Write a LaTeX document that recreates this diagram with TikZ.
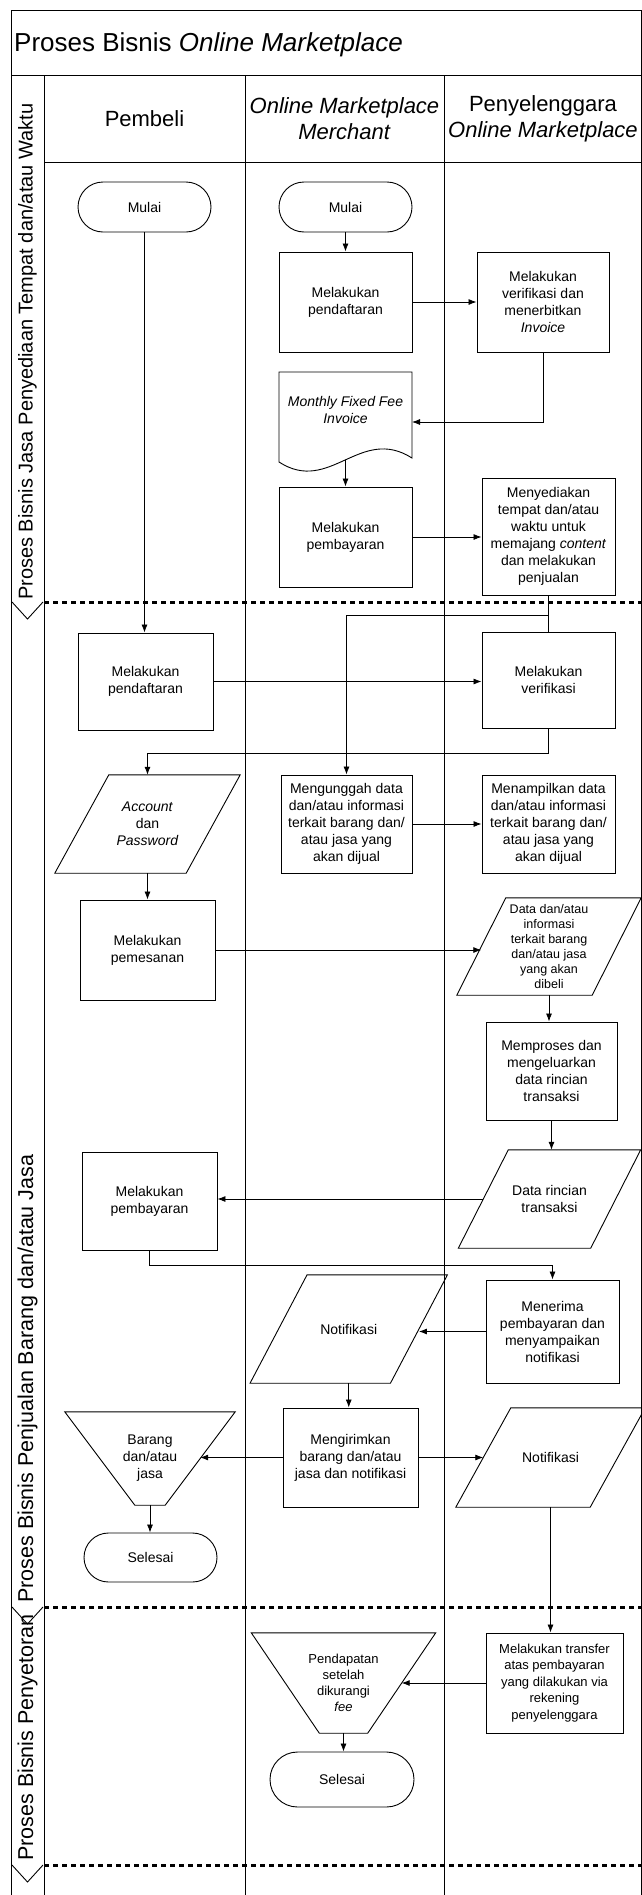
\documentclass[tikz,border=0pt]{standalone}
\usepackage{fontspec}
\setmainfont{Liberation Sans}
\usetikzlibrary{arrows.meta,shapes.misc,calc}
\newcommand{\drawpara}[2]{\draw[shp] ($(#1.south west)+(-#2,0)$) -- ($(#1.south east)+(-#2,0)$) -- ($(#1.north east)+(#2,0)$) -- ($(#1.north west)+(#2,0)$) -- cycle;}
\newcommand{\drawtrap}[2]{\draw[shp] ($(#1.north west)+(-#2,0)$) -- ($(#1.north east)+(#2,0)$) -- ($(#1.south east)+(-#2,0)$) -- ($(#1.south west)+(#2,0)$) -- cycle;}
\tikzset{
  shp/.style={draw=black, line width=0.9pt},
  txt/.style={align=center, inner sep=0pt, font=\fontsize{14}{17}\selectfont},
  smalltxt/.style={align=center, inner sep=0pt, font=\fontsize{12.5}{15}\selectfont},
  box/.style={txt, shp, rectangle},
  term/.style={txt, shp, rounded rectangle},
  arr/.style={line width=0.8pt, -{Latex[length=8pt,width=6pt]}},
  con/.style={line width=0.8pt},
  frameline/.style={line width=0.9pt},
  lanesep/.style={line width=3pt, dash pattern=on 5pt off 4pt},
  hdr/.style={align=center, inner sep=0pt, font=\fontsize{22}{26}\selectfont},
  lanelabel/.style={inner sep=0pt, rotate=90, anchor=west},
}
\begin{document}
\begin{tikzpicture}[x=1pt,y=-1pt]
\useasboundingbox (0,0) rectangle (642,1895);
% ---------- frame ----------
\draw[frameline] (11,10) -- (641,10);
\draw[frameline] (11,10) -- (11,1895);
\draw[frameline] (641,10) -- (641,1895);
\draw[frameline] (11,75) -- (641,75);
\draw[frameline] (44,75) -- (44,1895);
\draw[frameline] (44,162) -- (641,162);
\draw[frameline] (245,75) -- (245,1895);
\draw[frameline] (444,75) -- (444,1895);
\draw[lanesep] (44,602) -- (641,602);
\draw[lanesep] (44,1607) -- (641,1607);
\draw[lanesep] (44,1865) -- (641,1865);
\draw[frameline] (12,602) -- (27.5,619) -- (43,602);
\draw[frameline] (12,1607) -- (27.5,1624) -- (43,1607);
\draw[frameline] (12,1865) -- (27.5,1882) -- (43,1865);
% ---------- titles ----------
\node[anchor=west, inner sep=0pt, font=\fontsize{26}{30}\selectfont] (T) at (14,45) {Proses Bisnis \textit{Online Marketplace}};
\node[hdr] (H1) at (144.5,119) {Pembeli};
\node[hdr] (H2) at (344.5,119) {\textit{Online Marketplace}\\\textit{Merchant}};
\node[hdr] (H3) at (543,119) {Penyelenggara\\\textit{Online Marketplace}};
\node[lanelabel, font=\fontsize{20}{24}\selectfont] (L1) at (27.5,600) {Proses Bisnis Jasa Penyediaan Tempat dan/atau Waktu};
\node[lanelabel, font=\fontsize{21.5}{26}\selectfont] (L2) at (27.5,1603) {Proses Bisnis Penjualan Barang dan/atau Jasa};
\node[lanelabel, font=\fontsize{21.5}{26}\selectfont] (L3) at (27.5,1861) {Proses Bisnis Penyetoran};
% ---------- Pembeli ----------
\node[term, minimum width=133pt, minimum height=50pt] (P1) at (144.5,207) {Mulai};
\node[box, minimum width=135pt, minimum height=97pt] (P2) at (145.5,681.5) {Melakukan\\pendaftaran};
\node[txt, minimum width=131pt, minimum height=98pt] (P3) at (147.5,824) {\textit{Account}\\dan\\\textit{Password}};
\drawpara{P3}{27}
\node[box, minimum width=135pt, minimum height=100pt] (P4) at (147.5,950) {Melakukan\\pemesanan};
\node[box, minimum width=135pt, minimum height=98pt] (P5) at (149.5,1201) {Melakukan\\pembayaran};
\node[txt, minimum width=100pt, minimum height=93pt] (P6) at (150,1458.5) {Barang\\dan/atau\\jasa};
\drawtrap{P6}{35}
\node[term, minimum width=133pt, minimum height=49pt] (P7) at (150.5,1557.5) {Selesai};
% ---------- Merchant ----------
\node[term, minimum width=133pt, minimum height=50pt] (M1) at (345.5,207) {Mulai};
\node[box, minimum width=133pt, minimum height=100pt] (M2) at (345.5,302) {Melakukan\\pendaftaran};
\node[txt] (M3) at (345.5,410) {\textit{Monthly Fixed Fee}\\\textit{Invoice}};
\draw[shp] (279,372) -- (412,372) -- (412,458) .. controls (360,425) and (330,495) .. (279,462) -- cycle;
\coordinate (M3e) at (412,422);
\coordinate (M3s) at (345.5,460);
\node[box, minimum width=133pt, minimum height=100pt] (M4) at (345.5,537) {Melakukan\\pembayaran};
\node[box, minimum width=131pt, minimum height=98pt] (M5) at (346.5,824) {Mengunggah data\\dan/atau informasi\\terkait barang dan/\\atau jasa yang\\akan dijual};
\node[txt, minimum width=140pt, minimum height=108pt] (M6) at (348.75,1329) {Notifikasi};
\drawpara{M6}{28.5}
\node[box, minimum width=135pt, minimum height=99pt] (M7) at (350.5,1457.5) {Mengirimkan\\barang dan/atau\\jasa dan notifikasi};
\node[align=center, inner sep=0pt, font=\fontsize{13}{16}\selectfont, minimum width=116pt, minimum height=100pt] (M8) at (343.5,1683) {Pendapatan\\setelah\\dikurangi\\\textit{fee}};
\drawtrap{M8}{34}
\node[term, minimum width=144pt, minimum height=55pt] (M9) at (342,1779.5) {Selesai};
% ---------- Penyelenggara ----------
\node[box, minimum width=132pt, minimum height=100pt] (Y1) at (543,302) {Melakukan\\verifikasi dan\\menerbitkan\\\textit{Invoice}};
\node[box, minimum width=133pt, minimum height=117pt] (Y2) at (548.5,536.5) {Menyediakan\\tempat dan/atau\\waktu untuk\\memajang \textit{content}\\dan melakukan\\penjualan};
\node[box, minimum width=133pt, minimum height=96pt] (Y3) at (548.5,680) {Melakukan\\verifikasi};
\node[box, minimum width=133pt, minimum height=98pt] (Y4) at (548.5,824) {Menampilkan data\\dan/atau informasi\\terkait barang dan/\\atau jasa yang\\akan dijual};
\node[smalltxt, minimum width=135pt, minimum height=97pt] (Y5) at (549,946.5) {Data dan/atau\\informasi\\terkait barang\\dan/atau jasa\\yang akan\\dibeli};
\drawpara{Y5}{24.5}
\node[box, minimum width=131pt, minimum height=98pt] (Y6) at (551.5,1071) {Memproses dan\\mengeluarkan\\data rincian\\transaksi};
\node[txt, minimum width=132pt, minimum height=98pt] (Y7) at (549.5,1199) {Data rincian\\transaksi};
\drawpara{Y7}{25}
\node[box, minimum width=133pt, minimum height=103pt] (Y8) at (552.5,1331.5) {Menerima\\pembayaran dan\\menyampaikan\\notifikasi};
\node[txt, minimum width=134pt, minimum height=99pt] (Y9) at (550.5,1457.5) {Notifikasi};
\drawpara{Y9}{27.5}
\node[box, align=center, font=\fontsize{13}{16.5}\selectfont, minimum width=137pt, minimum height=100pt] (Y10) at (554.5,1683) {Melakukan transfer\\atas pembayaran\\yang dilakukan via\\rekening\\penyelenggara};
% ---------- junctions ----------
\coordinate (J1) at (548.5,615);
\coordinate (J2) at (548.5,753);
\coordinate (J3) at (149.5,1265);
% ---------- connectors ----------
\draw[arr] (P1.south) -- (P1.south |- P2.north);
\draw[arr] (M1.south) -- (M2.north);
\draw[arr] (M2.east) -- (M2.east -| Y1.west);
\draw[arr] (Y1.south) |- (M3e);
\draw[arr] (M3s) -- (M4.north);
\draw[arr] (M4.east) -- (M4.east -| Y2.west);
\draw[con] (Y2.south) -- (Y3.north);
\draw[arr] (J1) -| (M5.north);
\draw[arr] (P2.east) -- (P2.east -| Y3.west);
\draw[arr] (Y3.south) -- (J2) -| (P3.north);
\draw[arr] (M5.east) -- (M5.east -| Y4.west);
\draw[arr] (P3.south) -- (P3.south |- P4.north);
\draw[arr] (P4.east) -- (P4.east -| Y5.west);
\draw[arr] (Y5.south) -- (Y5.south |- Y6.north);
\draw[arr] (Y6.south) -- (Y6.south |- Y7.north);
\draw[arr] (Y7.west) -- (Y7.west -| P5.east);
\draw[arr] (P5.south) -- (J3) -| (Y8.north);
\draw[arr] (Y8.west) -- (Y8.west -| M6.east);
\draw[arr] (M6.south) -- (M6.south |- M7.north);
\draw[arr] (M7.west) -- (M7.west -| P6.east);
\draw[arr] (M7.east) -- (M7.east -| Y9.west);
\draw[arr] (P6.south) -- (P6.south |- P7.north);
\draw[arr] (Y9.south) -- (Y9.south |- Y10.north);
\draw[arr] (Y10.west) -- (Y10.west -| M8.east);
\draw[arr] (M8.south) -- (M8.south |- M9.north);
\end{tikzpicture}
\end{document}
